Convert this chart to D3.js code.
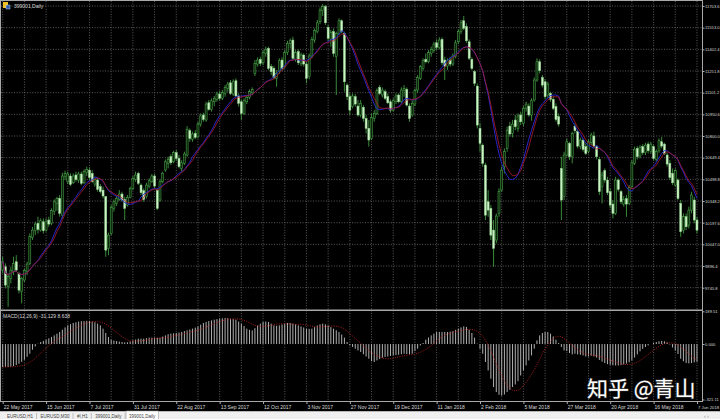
<!DOCTYPE html>
<html><head><meta charset="utf-8">
<script src="https://cdn.jsdelivr.net/npm/d3@7"></script>
<style>html,body{margin:0;padding:0;background:#000;overflow:hidden}</style>
</head><body><svg id="c" width="720" height="419"></svg>
<script>
const symbolTitle = "399001,Daily";
const macdTitle = "MACD(12,26,9) -31.129 8.638";
const firstDay = "2017-05-22", lastDay = "2018-06-07";
const holidays = ["2017-05-29","2017-05-30","2017-10-02","2017-10-03","2017-10-04","2017-10-05","2017-10-06",
  "2018-01-01","2018-02-15","2018-02-16","2018-02-19","2018-02-20","2018-02-21","2018-04-05","2018-04-06","2018-04-30","2018-05-01"];

const open = [9868,9891,9752,9810,9857,9926,9845,9718,9799,9857,
9915,10095,10142,10193,10146,10204,10146,10216,10193,10274,
10332,10366,10250,10517,10482,10522,10475,10529,10494,10536,
10475,10545,10563,10540,10466,10494,10448,10424,10378,10019,
10123,10297,10332,10359,10397,10359,10320,10373,10436,10498,
10540,10459,10420,10378,10452,10482,10522,10424,10355,10482,
10563,10610,10656,10621,10684,10644,10575,10610,10668,10837,
10777,10818,10795,10883,10946,10911,11031,10985,11038,11055,
11092,11062,11096,11131,11170,11092,11184,11078,11038,10957,
11038,11068,11101,11235,11300,11333,11309,11374,11409,11282,
11270,11201,11247,11328,11282,11379,11444,11467,11333,11386,
11305,11363,11300,11212,11356,11467,11525,11594,11671,11699,
11555,11472,11525,11351,11513,11601,11513,11154,11073,11004,
11073,11008,10946,10999,10922,10853,10783,10922,10957,11138,
11085,11108,11073,11038,10980,11038,11085,11038,11115,11124,
11008,10946,11022,11120,11201,11270,11333,11316,11374,11397,
11448,11416,11472,11328,11286,11328,11300,11351,11455,11525,
11601,11560,11455,11333,11247,11147,10853,10737,10598,10343,
10297,10146,10077,10262,10424,10587,10714,10869,10818,10911,
10853,10946,10888,10992,11008,10946,11050,11189,11316,11207,
11177,11085,11096,11055,11004,10934,10575,10378,10668,10749,
10656,10869,10830,10726,10772,10726,10691,10753,10800,10726,
10637,10448,10559,10494,10413,10327,10262,10494,10413,10327,
10364,10332,10448,10610,10714,10661,10726,10684,10744,10691,
10726,10637,10698,10760,10744,10668,10610,10540,10459,10494,
10332,10146,10239,10181,10285,10355,10216];

const high = [9961,9915,9845,9891,9961,9972,9857,9822,9880,9926,
10123,10169,10204,10239,10227,10227,10227,10239,10297,10359,
10378,10390,10545,10559,10552,10540,10540,10552,10552,10552,
10568,10587,10582,10563,10517,10505,10466,10448,10383,10128,
10320,10359,10383,10424,10413,10378,10390,10448,10522,10552,
10552,10471,10436,10475,10505,10536,10536,10436,10498,10552,
10637,10656,10674,10698,10702,10668,10633,10691,10869,10853,
10830,10841,10899,10957,10962,11038,11050,11062,11078,11108,
11115,11120,11154,11177,11189,11194,11201,11096,11055,11062,
11085,11124,11138,11328,11347,11351,11397,11421,11421,11300,
11286,11258,11340,11347,11397,11462,11479,11490,11397,11402,
11379,11374,11316,11374,11490,11548,11606,11694,11717,11710,
11571,11537,11548,11525,11618,11611,11525,11166,11096,11096,
11092,11050,11050,11015,10946,10911,10957,10980,11131,11154,
11138,11124,11096,11055,11062,11096,11096,11138,11154,11138,
11027,11050,11131,11224,11293,11340,11374,11397,11421,11455,
11472,11486,11486,11351,11340,11351,11374,11467,11541,11606,
11634,11583,11472,11347,11258,11166,10888,10749,10614,10424,
10320,10216,10262,10436,10587,10714,10865,10899,10911,10946,
10957,10969,11008,11038,11027,11062,11207,11340,11333,11224,
11194,11177,11108,11073,11027,10957,10656,10691,10783,10760,
10830,10888,10841,10790,10783,10749,10777,10823,10830,10737,
10656,10552,10575,10517,10436,10355,10517,10505,10424,10383,
10390,10459,10633,10726,10730,10737,10744,10753,10760,10760,
10737,10707,10783,10795,10753,10684,10633,10575,10575,10505,
10355,10262,10262,10309,10413,10378,10239];

const low = [9845,9741,9613,9776,9833,9857,9706,9637,9787,9833,
9903,10077,10111,10123,10135,10123,10135,10169,10181,10251,
10281,10239,10227,10494,10466,10452,10466,10482,10475,10459,
10466,10522,10494,10475,10448,10413,10401,10366,9961,9972,
10111,10274,10313,10350,10343,10216,10309,10366,10424,10482,
10459,10390,10343,10366,10436,10475,10436,10285,10343,10471,
10552,10575,10598,10610,10628,10575,10552,10598,10656,10760,
10760,10777,10783,10865,10899,10899,10976,10969,11008,11038,
11045,11050,11073,11108,11085,11078,11068,11004,10911,10946,
11022,11055,11085,11217,11282,11286,11293,11351,11258,11224,
11194,11143,11231,11254,11270,11363,11409,11328,11316,11293,
11286,11282,11166,11194,11340,11448,11513,11578,11634,11571,
11462,11421,11351,11085,11502,11513,11108,11050,10946,10992,
11004,10934,10929,10899,10818,10726,10772,10899,10946,11085,
11068,11050,11022,10962,10969,11022,11027,11027,11073,11004,
10899,10934,11008,11101,11189,11254,11305,11305,11351,11379,
11397,11402,11293,11189,11258,11282,11286,11340,11439,11509,
11537,11448,11328,11258,11147,10853,10691,10587,10216,10239,
10077,9891,10054,10239,10413,10540,10691,10795,10790,10841,
10830,10876,10869,10969,10934,10906,11038,11177,11235,11138,
11055,11062,11038,10980,10899,10865,10216,10355,10656,10633,
10610,10818,10714,10707,10691,10668,10679,10737,10714,10637,
10390,10332,10475,10390,10297,10227,10251,10413,10327,10309,
10239,10320,10436,10598,10637,10644,10668,10668,10679,10675,
10628,10621,10684,10714,10668,10587,10494,10459,10448,10355,
10100,10123,10146,10158,10262,10193,10123];

const close = [9926,9764,9822,9868,9915,9868,9729,9810,9864,9910,
10100,10146,10188,10151,10211,10142,10204,10188,10281,10343,
10366,10262,10522,10540,10536,10464,10522,10498,10536,10471,
10552,10568,10512,10482,10498,10429,10413,10383,10007,10111,
10304,10343,10366,10397,10355,10297,10373,10436,10505,10529,
10471,10406,10359,10459,10489,10522,10452,10297,10482,10540,
10621,10637,10614,10684,10644,10587,10614,10675,10846,10783,
10814,10790,10883,10939,10915,11022,10985,11045,11062,11092,
11062,11101,11138,11161,11096,11177,11078,11027,10957,11045,
11068,11108,11124,11305,11328,11305,11379,11402,11270,11247,
11207,11235,11323,11270,11379,11444,11462,11340,11379,11309,
11363,11300,11201,11356,11472,11532,11587,11675,11699,11587,
11479,11518,11374,11513,11601,11525,11177,11073,10980,11078,
11022,10946,11027,10922,10853,10772,10929,10957,11115,11096,
11120,11062,11031,10980,11045,11078,11038,11120,11131,11015,
10922,11027,11115,11207,11282,11323,11316,11379,11402,11439,
11416,11467,11309,11286,11323,11300,11356,11448,11525,11587,
11548,11462,11340,11270,11166,10876,10749,10610,10250,10285,
10111,10019,10244,10413,10563,10691,10841,10814,10883,10865,
10939,10899,10992,11022,10946,11045,11189,11316,11254,11154,
11073,11161,11055,10992,10915,10883,10355,10668,10760,10656,
10818,10837,10730,10772,10707,10679,10760,10807,10730,10656,
10413,10529,10494,10406,10320,10262,10494,10429,10343,10359,
10327,10443,10614,10707,10656,10721,10684,10737,10698,10744,
10644,10691,10767,10730,10679,10605,10512,10475,10559,10366,
10135,10239,10169,10285,10390,10216,10146];

const macd = [-133,-133,-133,-131,-128,-122,-114,-103,-91,-74,
-56,-33,-14,2,12,18,25,33,41,50,
60,70,83,96,108,115,122,126,130,132,
133,134,133,130,126,118,108,89,64,41,
25,20,17,14,12,10,10,15,21,26,
31,31,31,34,37,37,37,36,37,43,
50,57,60,62,64,67,70,75,79,84,
89,95,102,112,122,128,133,137,141,144,
147,149,151,150,147,144,141,130,118,104,
89,82,79,92,108,118,128,130,128,118,
108,106,108,113,118,122,122,118,114,108,
102,96,89,88,89,98,108,114,118,114,
108,98,89,80,70,55,37,12,-8,-17,
-27,-37,-46,-59,-72,-85,-99,-104,-95,-87,
-79,-75,-72,-69,-66,-64,-62,-59,-56,-58,
-60,-56,-41,-27,-8,6,25,38,50,60,
70,70,70,70,70,72,75,82,89,96,
102,99,83,64,37,2,-27,-56,-104,-153,
-201,-249,-278,-294,-298,-292,-278,-265,-249,-234,
-215,-182,-153,-124,-95,-66,-27,21,50,64,
70,70,60,44,25,6,-17,-37,-41,-52,
-60,-56,-60,-62,-66,-72,-72,-68,-72,-79,
-92,-102,-110,-116,-120,-123,-124,-124,-122,-118,
-113,-106,-95,-78,-60,-42,-28,-17,-8,0,
7,12,16,18,16,10,-3,-20,-38,-58,
-85,-100,-110,-112,-110,-106,-103];

const priceTicks = [11703.6,11553.0,11402.4,11251.8,11101.2,10950.6,10800.0,10649.4,10498.8,10348.2,10197.6,10047.0,9896.4,9745.8];
const macdTicks = [189.51, 0, -321.11];
const macdTickLabels = ["189.51","0.000","-321.11"];
const timeTickLabels = ["22 May 2017","15 Jun 2017","7 Jul 2017","31 Jul 2017","22 Aug 2017","13 Sep 2017","12 Oct 2017","3 Nov 2017","27 Nov 2017","19 Dec 2017","11 Jan 2018","2 Feb 2018","5 Mar 2018","27 Mar 2018","20 Apr 2018","16 May 2018","7 Jun 2018"];
const tabs = ["EURUSD,H1","EURUSD,M30","#I,H1","399001,Daily","399001,Daily"];
const watermark = "知乎 @青山";
const maFast = 13, maSlow = 14, signalPeriod = 9;

// trading days
const dates = [];
for (let t = new Date(firstDay).getTime(); t <= new Date(lastDay).getTime(); t += 86400000) {
  const d = new Date(t), wd = d.getUTCDay(), iso = d.toISOString().slice(0,10);
  if (wd === 0 || wd === 6 || holidays.includes(iso)) continue;
  dates.push(iso);
}
const MON = ["Jan","Feb","Mar","Apr","May","Jun","Jul","Aug","Sep","Oct","Nov","Dec"];
const fmt = iso => { const d = new Date(iso); return d.getUTCDate()+" "+MON[d.getUTCMonth()]+" "+d.getUTCFullYear(); };

const bars = dates.map((d,i)=>({d, o:open[i], h:high[i], l:low[i], c:close[i], m:macd[i]}));
const smaOf = (arr, n) => arr.map((_,i)=>d3.mean(arr.slice(Math.max(0,i-n+1), i+1)));
const maBlue = smaOf(close, maFast);
const maRed = smaOf(close, maSlow);
const signal = smaOf(macd, signalPeriod);

const font = "'Liberation Sans', Arial, sans-serif";
const svg = d3.select("#c");
svg.append("rect").attr("width",720).attr("height",419).attr("fill","#000");

const x = d3.scalePoint().domain(dates).range([2.7, 2.7 + 2.712*(dates.length-1)]);
const yP = d3.scaleLinear().domain([9745.8, 11703.6]).range([287.7, 6.0]);
const yM = d3.scaleLinear().domain([-321.11, 189.51]).range([399.5, 311.3]);

const defs = svg.append("defs");
defs.append("clipPath").attr("id","cm").append("rect").attr("x",1).attr("y",1).attr("width",701).attr("height",308.5);
defs.append("clipPath").attr("id","cs").append("rect").attr("x",1).attr("y",311.5).attr("width",701).attr("height",89.5);

// grid
const gridIdx = d3.range(0, dates.length, 8);
svg.append("g").selectAll("line").data(gridIdx).join("line")
  .attr("x1", i=>x(dates[i])).attr("x2", i=>x(dates[i])).attr("y1",1).attr("y2",401)
  .attr("stroke","#707070").attr("stroke-width",0.8).attr("stroke-dasharray","1,1.6");
svg.append("g").selectAll("line").data(priceTicks).join("line")
  .attr("x1",1).attr("x2",702).attr("y1",d=>yP(d)).attr("y2",d=>yP(d))
  .attr("stroke","#707070").attr("stroke-width",0.8).attr("stroke-dasharray","1,1.6");

// candles
const gm = svg.append("g").attr("clip-path","url(#cm)");
gm.selectAll("line.w").data(bars).join("line").attr("class","w")
  .attr("x1",d=>x(d.d)).attr("x2",d=>x(d.d)).attr("y1",d=>yP(d.h)).attr("y2",d=>yP(d.l))
  .attr("stroke","#3f9a3f").attr("stroke-width",0.9);
gm.selectAll("rect.b").data(bars).join("rect").attr("class","b")
  .attr("x",d=>x(d.d)-1).attr("width",2)
  .attr("y",d=>yP(Math.max(d.o,d.c)))
  .attr("height",d=>Math.max(0.8, Math.abs(yP(d.o)-yP(d.c))))
  .attr("fill",d=>d.c>=d.o?"#0b240b":"#cdf3c4")
  .attr("stroke",d=>d.c>=d.o?"#4fae4f":"#8fd08f").attr("stroke-width",0.5);

// moving averages
const lineP = d3.line().x((v,i)=>x(dates[i])).y(v=>yP(v));
gm.append("path").attr("d",lineP(maBlue)).attr("fill","none").attr("stroke","#2626c8").attr("stroke-width",1);
gm.append("path").attr("d",lineP(maRed)).attr("fill","none").attr("stroke","#a81c2c").attr("stroke-width",1).attr("opacity",0.85);

// MACD
const gs = svg.append("g").attr("clip-path","url(#cs)");
gs.selectAll("line.h").data(bars).join("line").attr("class","h")
  .attr("x1",d=>x(d.d)).attr("x2",d=>x(d.d)).attr("y1",yM(0)).attr("y2",d=>yM(d.m))
  .attr("stroke","#c4c4c4").attr("stroke-width",0.9);
gs.append("path").attr("d",d3.line().x((v,i)=>x(dates[i])).y(v=>yM(v))(signal))
  .attr("fill","none").attr("stroke","#c02020").attr("stroke-width",0.9).attr("stroke-dasharray","1,1.4");

// frames
const fr = svg.append("g").attr("stroke","#a8a8a8").attr("fill","none");
fr.append("line").attr("x1",0.5).attr("x2",0.5).attr("y1",0).attr("y2",402);
fr.append("line").attr("x1",0).attr("x2",703).attr("y1",0.5).attr("y2",0.5);
fr.append("line").attr("x1",0).attr("x2",703).attr("y1",310.3).attr("y2",310.3).attr("stroke-width",1.6);
fr.append("line").attr("x1",0).attr("x2",703).attr("y1",401.5).attr("y2",401.5);
fr.append("line").attr("x1",702.5).attr("x2",702.5).attr("y1",0).attr("y2",402);

// axes
function styleAxis(size){
  return g => {
    g.select(".domain").remove();
    g.selectAll("line").attr("stroke","#b0b0b0");
    g.selectAll("text").attr("fill","#d8d8d8").style("font-family",font).style("font-size",size);
  };
}
svg.append("g").attr("transform","translate(702.5,0)")
  .call(d3.axisRight(yP).tickValues(priceTicks).tickFormat(d=>d.toFixed(1)).tickSize(2).tickPadding(0.6))
  .call(styleAxis("4.1px"));
svg.append("g").attr("transform","translate(702.5,0)")
  .call(d3.axisRight(yM).tickValues(macdTicks).tickFormat((d,i)=>macdTickLabels[i]).tickSize(2).tickPadding(0.6))
  .call(styleAxis("4.1px"));
const tickDates = timeTickLabels.map(l => dates.find(d => fmt(d) === l));
const ta = svg.append("g").attr("transform","translate(0,401.5)")
  .call(d3.axisBottom(x).tickValues(tickDates).tickFormat((d,i)=>timeTickLabels[i]).tickSize(2.5).tickPadding(1.5))
  .call(styleAxis("5px"));
ta.selectAll("text").attr("text-anchor","start").attr("x",0.5)
  .filter((d,i)=>i===timeTickLabels.length-1).style("font-size","4.3px");

// titles
svg.append("rect").attr("x",3).attr("y",2).attr("width",5).attr("height",6).attr("fill","#f0c020");
svg.append("rect").attr("x",6).attr("y",5).attr("width",4).attr("height",4).attr("fill","#2a5db0").attr("stroke","#dfe8ff").attr("stroke-width",0.4);
svg.append("text").attr("x",14).attr("y",7.5).text(symbolTitle)
  .attr("fill","#d8d8d8").style("font-family",font).style("font-size","5px");
svg.append("text").attr("x",3).attr("y",317.5).text(macdTitle)
  .attr("fill","#d8d8d8").style("font-family",font).style("font-size","5px");

// tab bar
svg.append("rect").attr("x",0).attr("y",411).attr("width",720).attr("height",8).attr("fill","#f0f0f0");
svg.append("line").attr("x1",0).attr("x2",720).attr("y1",411.5).attr("y2",411.5).attr("stroke","#b8b8b8");
let tx = 7;
tabs.forEach((t,i)=>{
  const active = i === tabs.length-1;
  const tt = svg.append("text").attr("x",tx).attr("y",418.3).text(t)
    .attr("fill","#404040").style("font-family",font).style("font-size","4.5px");
  const w = tt.node().getComputedTextLength();
  if (active) {
    svg.insert("rect", () => tt.node()).attr("x",tx-3).attr("y",411).attr("width",w+6).attr("height",9)
      .attr("fill","#fff").attr("stroke","#a0a0a0").attr("stroke-width",0.6);
  } else {
    svg.append("line").attr("x1",tx+w+3.5).attr("x2",tx+w+3.5).attr("y1",413).attr("y2",419).attr("stroke","#a0a0a0").attr("stroke-width",0.6);
  }
  tx += w + 7.5;
});
svg.append("text").attr("x",704).attr("y",418.3).text("‹  ›").attr("fill","#888")
  .style("font-family",font).style("font-size","5px");

// watermark
svg.append("text").attr("x",587).attr("y",396).text(watermark)
  .attr("fill","#ffffff").attr("stroke","#404040").attr("stroke-width",1.2).attr("paint-order","stroke")
  .style("font-family","'Noto Sans CJK SC', sans-serif").style("font-size","21px");
</script></body></html>
